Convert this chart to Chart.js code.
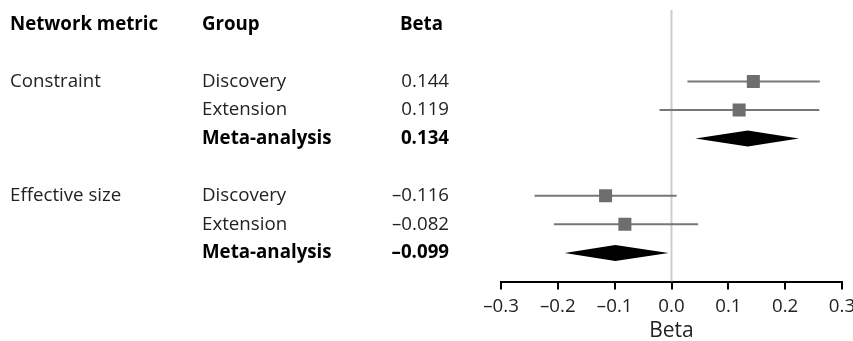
<!DOCTYPE html>
<html>
<head>
<meta charset="utf-8">
<script src="https://cdn.jsdelivr.net/npm/chart.js@4/dist/chart.umd.min.js"></script>
<style>
  html, body { margin: 0; padding: 0; background: #fff; }
  #wrap { width: 853px; height: 341px; position: relative; }
</style>
</head>
<body>
<div id="wrap"><canvas id="forest"></canvas></div>
<script>
// Forest plot data: one entry per study row, grouped by network metric
const metrics = ['Constraint', 'Effective size'];
const groups = ['Discovery', 'Extension', 'Meta-analysis'];
const beta = [0.144, 0.119, 0.134, -0.116, -0.082, -0.099];
const ciLow = [0.028, -0.021, 0.042, -0.241, -0.207, -0.188];
const ciHigh = [0.261, 0.260, 0.224, 0.009, 0.047, -0.005];
const xTicks = [-0.3, -0.2, -0.1, 0.0, 0.1, 0.2, 0.3];
const headers = ['Network metric', 'Group', 'Beta'];

const FONT = "'Open Sans', 'DejaVu Sans', sans-serif";
const SIZE = 18.7;
const fmt = (v, d) => (v < 0 ? '\u2013' : '') + Math.abs(v).toFixed(d);

// Row index on the vertical scale: header at 0, a blank line between metrics
const rowOf = (m, g) => 2 + m * (groups.length + 1) + g;

const rows = [];
metrics.forEach((m, mi) => groups.forEach((g, gi) => {
  const i = mi * groups.length + gi;
  rows.push({ metric: m, group: g, first: gi === 0, meta: gi === groups.length - 1,
              row: rowOf(mi, gi), beta: beta[i], lo: ciLow[i], hi: ciHigh[i] });
}));

const datasets = [];
// vertical reference line at zero
datasets.push({
  type: 'line', data: [{ x: 0, y: -0.5 }, { x: 0, y: rowOf(metrics.length - 1, groups.length - 1) + 1 }],
  borderColor: '#cccccc', borderWidth: 2, pointRadius: 0, order: 5
});
// confidence intervals for individual studies
rows.filter(r => !r.meta).forEach(r => {
  datasets.push({
    type: 'line', data: [{ x: r.lo, y: r.row }, { x: r.hi, y: r.row }],
    borderColor: '#777777', borderWidth: 2, pointRadius: 0, order: 3
  });
});
// point estimates as squares
datasets.push({
  type: 'scatter',
  data: rows.filter(r => !r.meta).map(r => ({ x: r.beta, y: r.row })),
  pointStyle: 'rect', pointRadius: 9.2, pointHoverRadius: 9.2,
  backgroundColor: '#6e6e6e', borderWidth: 0, order: 1
});

// pooled estimates drawn as diamonds spanning the confidence interval
const diamondPlugin = {
  id: 'diamonds',
  afterDatasetsDraw(chart) {
    const { ctx, scales: { x, y } } = chart;
    ctx.save();
    ctx.fillStyle = '#000';
    rows.filter(r => r.meta).forEach(r => {
      const cy = y.getPixelForValue(r.row);
      const h = 8;
      ctx.beginPath();
      ctx.moveTo(x.getPixelForValue(r.lo), cy);
      ctx.lineTo(x.getPixelForValue(r.beta), cy - h);
      ctx.lineTo(x.getPixelForValue(r.hi), cy);
      ctx.lineTo(x.getPixelForValue(r.beta), cy + h);
      ctx.closePath();
      ctx.fill();
    });
    ctx.restore();
  }
};

// table columns to the left of the plot
const tablePlugin = {
  id: 'table',
  afterDraw(chart) {
    const { ctx, scales: { y } } = chart;
    ctx.save();
    ctx.textBaseline = 'middle';
    const colMetric = 10, colGroup = 202, colBetaL = 400, colBetaR = 449;
    const hy = y.getPixelForValue(0);
    ctx.fillStyle = '#000';
    ctx.font = 'bold ' + SIZE + 'px ' + FONT;
    ctx.textAlign = 'left';
    ctx.fillText(headers[0], colMetric, hy);
    ctx.fillText(headers[1], colGroup, hy);
    ctx.fillText(headers[2], colBetaL, hy);
    rows.forEach(r => {
      const py = y.getPixelForValue(r.row);
      const weight = r.meta ? 'bold ' : '';
      ctx.fillStyle = r.meta ? '#000' : '#222';
      ctx.textAlign = 'left';
      if (r.first) {
        ctx.font = SIZE + 'px ' + FONT;
        ctx.fillText(r.metric, colMetric, py);
      }
      ctx.font = weight + SIZE + 'px ' + FONT;
      ctx.fillText(r.group, colGroup, py);
      ctx.textAlign = 'right';
      ctx.fillText(fmt(r.beta, 3), colBetaR, py);
    });
    ctx.restore();
  }
};

new Chart(document.getElementById('forest'), {
  data: { datasets },
  plugins: [diamondPlugin, tablePlugin],
  options: {
    responsive: true,
    maintainAspectRatio: false,
    animation: false,
    events: [],
    layout: { padding: { left: 501, right: 11, top: 10, bottom: 0 } },
    plugins: { legend: { display: false }, tooltip: { enabled: false } },
    scales: {
      x: {
        type: 'linear', min: xTicks[0], max: xTicks[xTicks.length - 1],
        afterBuildTicks(axis) { axis.ticks = xTicks.map(v => ({ value: v })); },
        afterFit(axis) { axis.height = 59.5; axis.paddingLeft = 0; axis.paddingRight = 0; },
        grid: { display: true, drawOnChartArea: false, drawTicks: true, tickLength: 8,
                color: '#000', lineWidth: 2 },
        border: { display: true, color: '#000', width: 2 },
        ticks: { padding: 6, color: '#222', font: { family: FONT, size: SIZE },
                 maxRotation: 0, callback: v => fmt(v, 1) },
        title: { display: true, text: 'Beta', color: '#222',
                 font: { family: FONT, size: 21, lineHeight: 1 }, padding: { top: 2, bottom: -1 } }
      },
      y: {
        type: 'linear', reverse: true, display: false,
        min: -0.5, max: rowOf(metrics.length - 1, groups.length - 1) + 1
      }
    }
  }
});
</script>
</body>
</html>
